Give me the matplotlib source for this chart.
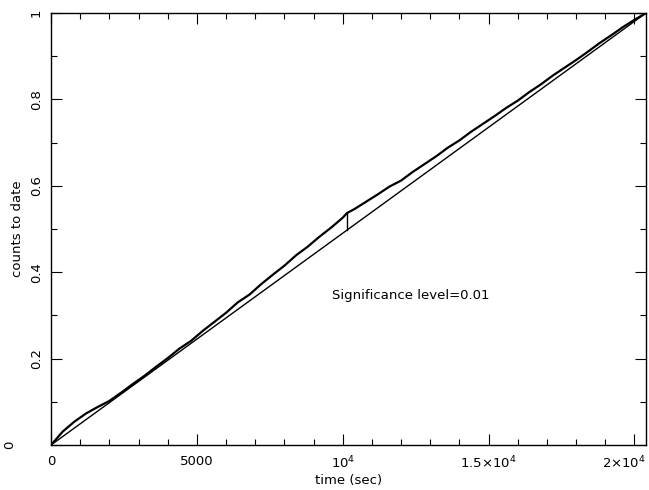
import matplotlib
matplotlib.use('Agg')
import matplotlib.pyplot as plt
from matplotlib.ticker import MultipleLocator
from matplotlib.transforms import ScaledTranslation

# cumulative counts (fraction) vs time
time = [0, 400, 800, 1200, 1600, 2000, 2400, 2800, 3200, 3600, 4000, 4400, 4800,
        5200, 5600, 6000, 6400, 6800, 7200, 7600, 8000, 8400, 8800, 9200, 9600,
        10000, 10150, 10400, 10800, 11200, 11600, 12000, 12400, 12800, 13200,
        13600, 14000, 14400, 14800, 15200, 15600, 16000, 16400, 16800, 17200,
        17600, 18000, 18400, 18800, 19200, 19600, 20000, 20400]
counts = [0, 0.031, 0.054, 0.073, 0.088, 0.102, 0.121, 0.141, 0.160, 0.181, 0.201,
          0.223, 0.241, 0.264, 0.285, 0.306, 0.330, 0.348, 0.372, 0.394, 0.415,
          0.439, 0.459, 0.482, 0.503, 0.526, 0.537, 0.546, 0.563, 0.580, 0.598,
          0.612, 0.632, 0.650, 0.668, 0.688, 0.705, 0.725, 0.743, 0.761, 0.780,
          0.797, 0.817, 0.835, 0.855, 0.873, 0.891, 0.910, 0.930, 0.948, 0.967,
          0.984, 1.0]

# uniform expectation
uniform_t = [0, 20400]
uniform_c = [0, 1]

# max deviation marker
ks_t = 10150
ks_low = 0.4975
ks_high = 0.537

xticks = [0, 5000, 10000, 15000, 20000]
xticklabels = ['0', '5000', r'$10^4$', r'$1.5{\times}10^4$', r'$2{\times}10^4$']
yticks = [0, 0.2, 0.4, 0.6, 0.8, 1]
yticklabels = ['0', '0.2', '0.4', '0.6', '0.8', '1']

fig = plt.figure(figsize=(6.49, 4.90), dpi=100)
ax = fig.add_axes([0.0786, 0.0918, 0.9168, 0.8817])

ax.plot(time, counts, color='black', lw=1.6)
ax.plot(uniform_t, uniform_c, color='black', lw=1.0)
ax.plot([ks_t, ks_t], [ks_low, ks_high], color='black', lw=1.0)

ax.text(9650, 0.345, 'Significance level=0.01', fontsize=9.5, va='center', ha='left')

ax.set_xlim(0, 20400)
ax.set_ylim(0, 1)
ax.set_xticks(xticks)
ax.set_xticklabels(xticklabels, fontsize=9.5)
ax.set_yticks(yticks)
ax.set_yticklabels(yticklabels, fontsize=9.5, rotation=90, va='center')
ax.xaxis.set_minor_locator(MultipleLocator(1000))
ax.yaxis.set_minor_locator(MultipleLocator(0.1))
ax.tick_params(which='both', direction='in', top=True, right=True, width=0.8)
ax.tick_params(which='major', length=8)
ax.tick_params(which='minor', length=4)
ax.tick_params(axis='x', pad=7)
ax.tick_params(axis='y', pad=6)

ax.set_xlabel('time (sec)', fontsize=9.5)
ax.set_ylabel('counts to date', fontsize=9.5)
ax.xaxis.set_label_coords(0.5, -0.066)
ax.yaxis.set_label_coords(-0.045, 0.5)

for s in ax.spines.values():
    s.set_linewidth(1.0)

# the y "0" label sits further out
lab0 = ax.get_yticklabels()[0]
lab0.set_transform(lab0.get_transform() + ScaledTranslation(-0.27, 0, fig.dpi_scale_trans))
# keep the last x label inside the figure
labx = ax.get_xticklabels()[-1]
labx.set_transform(labx.get_transform() + ScaledTranslation(-0.1, 0, fig.dpi_scale_trans))

fig.savefig('out.png', dpi=100)
